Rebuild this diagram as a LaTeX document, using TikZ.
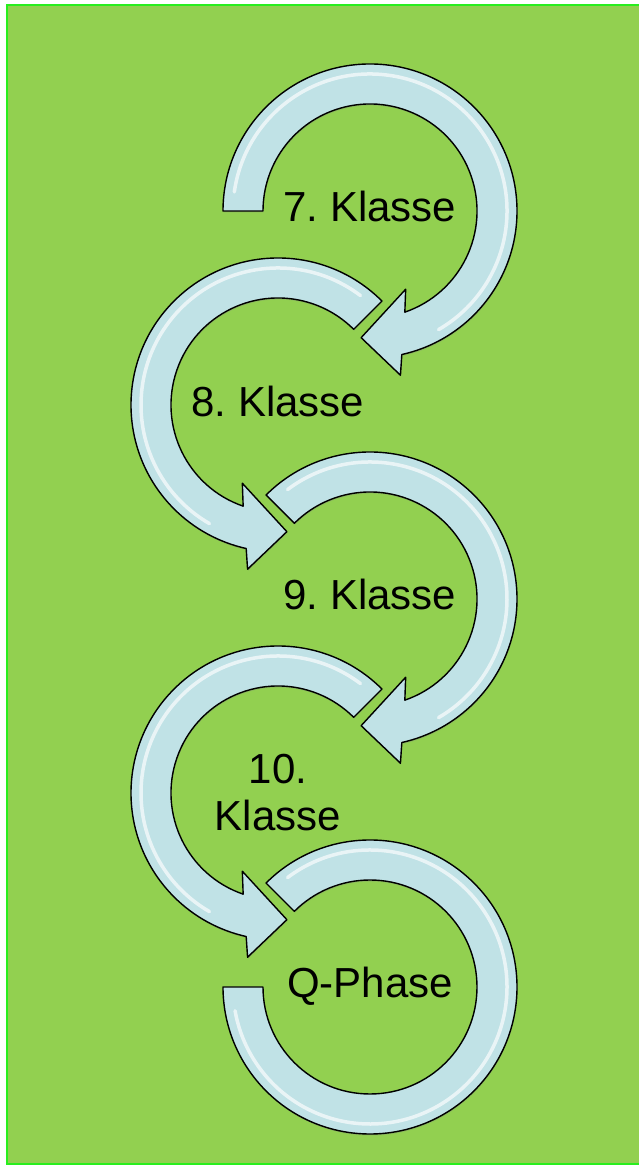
\documentclass[tikz,border=0pt]{standalone}
\usepackage{fontspec}
\setmainfont{Liberation Sans}
\usetikzlibrary{shadows}
\definecolor{wiese}{RGB}{146,208,80}
\definecolor{rahmen}{RGB}{40,238,30}
\definecolor{eis}{RGB}{192,226,230}
\tikzset{
  ring/.style={fill=eis, draw=black, line width=1.4pt, line join=round,
    drop shadow={opacity=0.3, shadow xshift=0.5pt, shadow yshift=-1.5pt}},
  glanz/.style={white, opacity=0.65, line width=3.5pt, line cap=round},
  klasse/.style={font=\fontsize{42}{47}\selectfont\frenchspacing, inner sep=0pt, align=center}
}
% Kreisbogen mit Pfeilspitze, #1 = Winkel des Endes
\newcommand{\pfeilring}[1]{%
  \path[ring] (#1:147) arc[start angle=#1, end angle=-77.5, radius=147]
    -- (-79.5:167) -- (-94:127) -- (-65.5:86) -- (-71:107)
    arc[start angle=-71, end angle=#1, radius=107] -- cycle;
  \draw[glanz] (#1-8:137) arc[start angle=#1-8, end angle=-60, radius=137];
}

\begin{document}
\begin{tikzpicture}[x=1pt,y=1pt]
    \useasboundingbox (0,0) rectangle (639,1166);
    \fill[white] (0,0) rectangle (639,1166);
    \draw[rahmen, fill=wiese, line width=2pt] (7,2) rectangle (646,1161);
    % Mittelpunkte
    \coordinate (k7) at (370,955);
    \coordinate (k8) at (278,761);
    \coordinate (k9) at (370,567);
    \coordinate (k10) at (278,373);
    \coordinate (kq) at (370,179);
    \begin{scope}[shift={(k7)}]
      \pfeilring{180}
    \end{scope}
    \begin{scope}[shift={(k8)},xscale=-1]
      \pfeilring{135}
    \end{scope}
    \begin{scope}[shift={(k9)}]
      \pfeilring{135}
    \end{scope}
    \begin{scope}[shift={(k10)},xscale=-1]
      \pfeilring{135}
    \end{scope}
    \begin{scope}[shift={(kq)}]
      \path[ring] (135:147) arc[start angle=135, end angle=-180, radius=147]
        -- (180:107) arc[start angle=-180, end angle=135, radius=107] -- cycle;
      \draw[glanz] (127:137) arc[start angle=127, end angle=-170, radius=137];
    \end{scope}
    % Beschriftung
    \node[klasse, anchor=base] (t7) at ([yshift=-11pt]k7) {7. Klasse};
    \node[klasse, anchor=base] (t8) at ([yshift=-12pt]k8) {8. Klasse};
    \node[klasse, anchor=base] (t9) at ([yshift=-11pt]k9) {9. Klasse};
    \node[klasse] (t10) at (k10) {10.\\Klasse};
    \node[klasse, anchor=base] (tq) at ([yshift=-11pt]kq) {Q-Phase};
\end{tikzpicture}
\end{document}
